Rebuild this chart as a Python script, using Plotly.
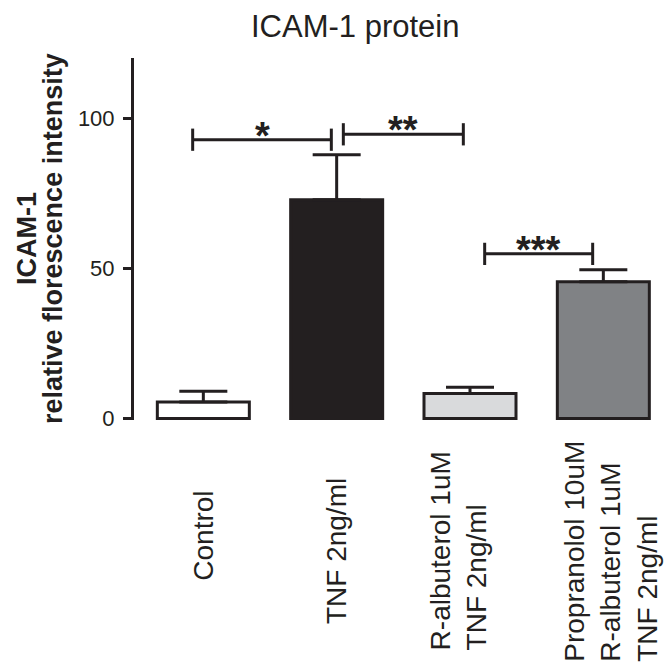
"""ICAM-1 protein bar chart (Plotly)"""
import plotly.graph_objects as go

# ---- data ----
groups = ["Control", "TNF 2ng/ml", "R-albuterol 1uM<br>TNF 2ng/ml",
          "Propranolol 10uM<br>R-albuterol 1uM<br>TNF 2ng/ml"]
means = [5.5, 72.8, 8.3, 45.5]
sem = [3.6, 15.0, 2.1, 4.0]
bar_colors = ["#ffffff", "#231f20", "#d9dadc", "#808285"]

# significance brackets: (start category, end category, height, label)
brackets = [
    (-0.08, 0.96, 92.8, "*"),
    (1.05, 1.95, 94.6, "**"),
    (2.11, 2.92, 54.8, "***"),
]
bracket_tick = 3.7

y_title_lines = ["ICAM-1", "relative florescence intensity"]

# small nudges for the rotated category labels (px)
label_xshift = [0, 0, -12, 8]
label_yshift = [16, 0, 0, 0]

INK = "#231f20"
FONT = "Liberation Sans, Arial, sans-serif"

# the page body adds an 8px offset, so the figure is a bit smaller
W, H = 664, 661
M_L, M_R, M_T, M_B = 126, 2, 50, 249
plot_h = H - M_T - M_B
plot_w = W - M_L - M_R

fig = go.Figure()
fig.add_trace(go.Bar(
    x=list(range(len(groups))), y=means,
    width=0.69,
    marker=dict(color=bar_colors, line=dict(color=INK, width=3)),
    error_y=dict(type="data", array=sem, arrayminus=[0] * len(sem),
                 symmetric=False, color=INK, thickness=3, width=24),
    hoverinfo="skip",
))

# brackets with stars
for x0, x1, yb, lab in brackets:
    fig.add_shape(type="line", x0=x0, x1=x1, y0=yb, y1=yb,
                  line=dict(color=INK, width=3))
    for xe in (x0, x1):
        fig.add_shape(type="line", x0=xe, x1=xe,
                      y0=yb - bracket_tick, y1=yb + bracket_tick,
                      line=dict(color=INK, width=3))
    fig.add_annotation(x=(x0 + x1) / 2, y=yb, text=lab, showarrow=False,
                       yanchor="middle", yshift=4,
                       font=dict(family=FONT, size=38, color=INK,
                                 weight="bold"))

# rotated category labels
for i, g in enumerate(groups):
    fig.add_annotation(x=i, xref="x", y=-0.363, yref="paper", text=g,
                       textangle=-90, showarrow=False, align="left",
                       xanchor="center", yanchor="middle",
                       xshift=label_xshift[i], yshift=label_yshift[i],
                       font=dict(family=FONT, size=28, color=INK))

# y axis title, one rotated annotation per line
for k, line in enumerate(y_title_lines):
    fig.add_annotation(x=0, xref="paper", xshift=-107 + 26 * k,
                       y=0.5, yref="paper", text=line,
                       textangle=-90, showarrow=False,
                       xanchor="center", yanchor="middle",
                       font=dict(family=FONT, size=27, color=INK,
                                 weight="bold"))

# chart title, kept inside the figure's top edge
fig.add_annotation(x=(347 - M_L) / plot_w, xref="paper",
                   y=1 + M_T / plot_h, yref="paper", yanchor="top",
                   xanchor="center", text="ICAM-1 protein", showarrow=False,
                   borderpad=0,
                   font=dict(family=FONT, size=31, color=INK))

fig.update_layout(
    width=W, height=H,
    margin=dict(l=M_L, r=M_R, t=M_T, b=M_B),
    paper_bgcolor="white", plot_bgcolor="white",
    showlegend=False,
    xaxis=dict(range=[-0.52, 3.5], showline=False, showgrid=False,
               zeroline=False, showticklabels=False, ticks=""),
    yaxis=dict(range=[-0.5, 120], tickvals=[0, 50, 100],
               showline=True, linewidth=3, linecolor=INK,
               ticks="outside", ticklen=8, tickwidth=3, tickcolor=INK,
               ticklabelstandoff=4,
               showgrid=False, zeroline=False,
               tickfont=dict(family=FONT, size=22, color=INK)),
)

fig.write_html("out.html")
